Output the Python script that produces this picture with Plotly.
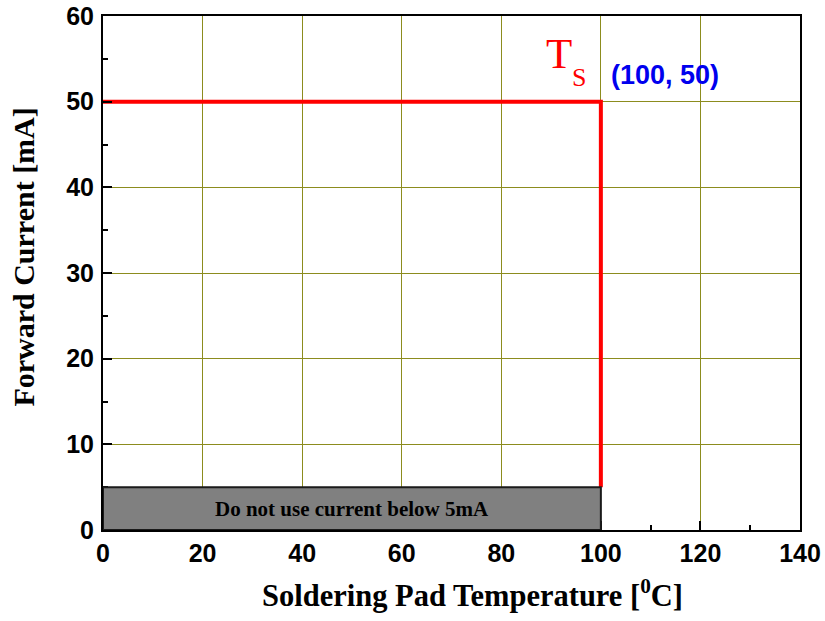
import plotly.graph_objects as go

# Data
temp = [0, 100, 100]
current = [50, 50, 5]
limit_x = [0, 100]
limit_y = [0, 5]
limit_text = "Do not use current below 5mA"
point_label = "(100, 50)"
x_ticks = [0, 20, 40, 60, 80, 100, 120, 140]
y_ticks = [0, 10, 20, 30, 40, 50, 60]
x_title = "Soldering Pad Temperature [<sup>0</sup>C]"
y_title = "Forward Current [mA]"

fig = go.Figure()
fig.add_trace(go.Scatter(x=temp, y=current, mode="lines",
                         line=dict(color="#ff0000", width=4), showlegend=False))

fig.add_shape(type="rect", x0=limit_x[0], x1=limit_x[1], y0=limit_y[0], y1=limit_y[1],
              xref="x", yref="y", fillcolor="#808080",
              line=dict(color="#1a1a1a", width=2), layer="above")
fig.add_annotation(x=(limit_x[0] + limit_x[1]) / 2, y=(limit_y[0] + limit_y[1]) / 2,
                   text="<b>" + limit_text + "</b>", showarrow=False,
                   font=dict(family="Liberation Serif", size=21, color="black"))
# T_S label (T and subscript S)
fig.add_annotation(x=temp[1], y=current[1], text="T", showarrow=False,
                   xanchor="center", yanchor="middle", xshift=-42, yshift=48,
                   font=dict(family="Liberation Serif", size=43, color="#ff0000"))
fig.add_annotation(x=temp[1], y=current[1], text="S", showarrow=False,
                   xanchor="center", yanchor="middle", xshift=-22, yshift=24,
                   font=dict(family="Liberation Serif", size=26, color="#ff0000"))
fig.add_annotation(x=temp[1], y=current[1], text="<b>" + point_label + "</b>", showarrow=False,
                   xanchor="left", yanchor="middle", xshift=8, yshift=27,
                   font=dict(family="Liberation Sans", size=27, color="#0000ee"))

# axis titles
fig.add_annotation(xref="paper", yref="paper", x=0.530, y=-0.124, text="<b>" + x_title + "</b>",
                   showarrow=False, xanchor="center", yanchor="middle",
                   font=dict(family="Liberation Serif", size=30.5, color="black"))
fig.add_annotation(xref="paper", yref="paper", x=-0.114, y=0.531, text="<b>" + y_title + "</b>",
                   showarrow=False, xanchor="center", yanchor="middle", textangle=-90,
                   font=dict(family="Liberation Serif", size=30, color="black"))

axis_common = dict(showline=True, linecolor="black", linewidth=2, mirror=True,
                   ticks="inside", ticklen=9, tickwidth=2, tickcolor="black",
                   showgrid=True, gridcolor="#8c8c1e", gridwidth=1, zeroline=False,
                   automargin=False, ticklabeloverflow="allow",
                   tickfont=dict(family="Liberation Sans", size=25, color="black"))

fig.update_xaxes(range=[0, 140], tickvals=x_ticks, ticktext=[f"<b>{v}</b>" for v in x_ticks],
                 minor=dict(dtick=10, tick0=0, ticks="inside", ticklen=5, tickwidth=2,
                            tickcolor="black", showgrid=False),
                 **axis_common)
fig.update_yaxes(range=[0, 60], tickvals=y_ticks, ticktext=[f"<b>{v}</b>" for v in y_ticks],
                 minor=dict(dtick=5, tick0=0, ticks="inside", ticklen=5, tickwidth=2,
                            tickcolor="black", showgrid=False),
                 ticklabelstandoff=2,
                 **axis_common)

fig.update_layout(width=825, height=621, plot_bgcolor="white", paper_bgcolor="white",
                  margin=dict(l=103, r=25, t=16, b=91))

fig.write_html("out.html", config={"displayModeBar": False},
               post_script="document.body.style.margin='0';")
